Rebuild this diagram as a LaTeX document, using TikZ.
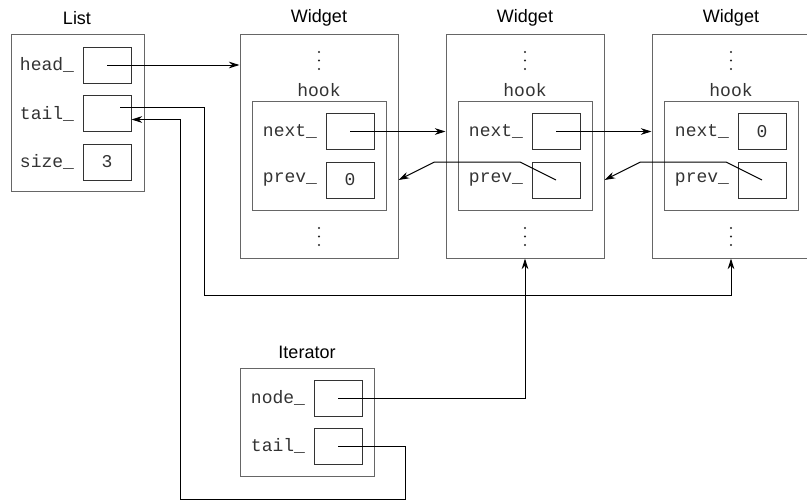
\documentclass[tikz,border=0pt]{standalone}
\usepackage{fontspec}
\setmainfont{Liberation Sans}
\setmonofont{Liberation Mono}
\usetikzlibrary{arrows.meta,calc}
\tikzset{
  title/.style={inner sep=0pt, font=\fontsize{13.5}{16}\selectfont},
  outer/.style={draw=black!60, line width=0.75pt, inner sep=0pt},
  field/.style={draw=black!80, line width=0.75pt, minimum width=36pt, minimum height=27pt,
    inner sep=0pt, text=black!80, font=\ttfamily\fontsize{13.5}{16}\selectfont},
  fname/.style={anchor=east, inner sep=0pt, text=black!80, font=\ttfamily\fontsize{13.5}{16}\selectfont},
  widget/.style={outer, minimum width=118.5pt, minimum height=168pt},
  hookbox/.style={outer, minimum width=100.5pt, minimum height=81.75pt},
}
\begin{document}
\begin{tikzpicture}[x=0.75pt, y=-0.75pt, line width=0.75pt, >={Stealth[length=8pt,width=5pt]}]
\useasboundingbox (0,0) rectangle (807,501);
% list
\node[title] (tlist) at (77,18) {List};
\node[outer, minimum width=99.75pt, minimum height=117.75pt] (list) at (77.5,112.5) {};
\node[field] (head) at (107,65) {};
\node[field] (tail) at (107,113.5) {};
\node[field] (size) at (107,162) {3};
\node[fname] (lhead) at ([xshift=-6pt]head.west) {head\_};
\node[fname] (ltail) at ([xshift=-6pt]tail.west) {tail\_};
\node[fname] (lsize) at ([xshift=-6pt]size.west) {size\_};
% widget 1
\node[title] (tw1) at (319,18) {Widget};
\node[widget] (w1) at (319,146) {};
\node[fname, anchor=center] (hk1) at (319,90) {hook};
\node[hookbox] (h1) at (319,155.5) {};
\node[field] (next1) at (350,131.5) {};
\node[field] (prev1) at (350,180) {0};
\node[fname] (ln1) at ([xshift=-6pt]next1.west) {next\_};
\node[fname] (lp1) at ([xshift=-6pt]prev1.west) {prev\_};
% widget 2
\node[title] (tw2) at (525,18) {Widget};
\node[widget] (w2) at (525,146) {};
\node[fname, anchor=center] (hk2) at (525,90) {hook};
\node[hookbox] (h2) at (525,155.5) {};
\node[field] (next2) at (556,131.5) {};
\node[field] (prev2) at (556,180) {};
\node[fname] (ln2) at ([xshift=-6pt]next2.west) {next\_};
\node[fname] (lp2) at ([xshift=-6pt]prev2.west) {prev\_};
% widget 3
\node[title] (tw3) at (731,18) {Widget};
\node[widget] (w3) at (731,146) {};
\node[fname, anchor=center] (hk3) at (731,90) {hook};
\node[hookbox] (h3) at (731,155.5) {};
\node[field] (next3) at (762,131.5) {0};
\node[field] (prev3) at (762,180) {};
\node[fname] (ln3) at ([xshift=-6pt]next3.west) {next\_};
\node[fname] (lp3) at ([xshift=-6pt]prev3.west) {prev\_};
% elided members
\foreach \cx in {319,525,731}
  \foreach \cy in {52,60.5,69,228,236.5,245}
    \fill[black!85] (\cx,\cy) circle (0.85pt);
% iterator
\node[title] (titer) at (307,352) {Iterator};
\node[outer, minimum width=100.5pt, minimum height=81pt] (iter) at (307,422) {};
\node[field] (inode) at (338,398) {};
\node[field] (itail) at (338,446) {};
\node[fname] (linode) at ([xshift=-6pt]inode.west) {node\_};
\node[fname] (litail) at ([xshift=-6pt]itail.west) {tail\_};
% links
\coordinate (tailout) at ($(tail.center)+(13,-6.5)$);
\coordinate (tailin) at ($(tail.east)+(0,6)$);
\coordinate (bus) at (204,295);
\coordinate (loopR) at (405,499);
\coordinate (loopL) at (180,499);
\draw[->] (head.center) -- (head -| w1.west);
\draw[->] (next1.center) -- (next1 -| w2.west);
\draw[->] (next2.center) -- (next2 -| w3.west);
\draw[->] (prev2.center) -- ++(-36,-18) -- ($(prev1 -| w1.east)+(36,-18)$) -- (prev1 -| w1.east);
\draw[->] (prev3.center) -- ++(-36,-18) -- ($(prev2 -| w2.east)+(36,-18)$) -- (prev2 -| w2.east);
\draw[->] (tailout) -| (bus) -| (w3.south);
\draw[->] (inode.center) -| (w2.south);
\draw[->] (itail.center) -| (loopR) -- (loopL) |- (tailin);
\end{tikzpicture}
\end{document}
